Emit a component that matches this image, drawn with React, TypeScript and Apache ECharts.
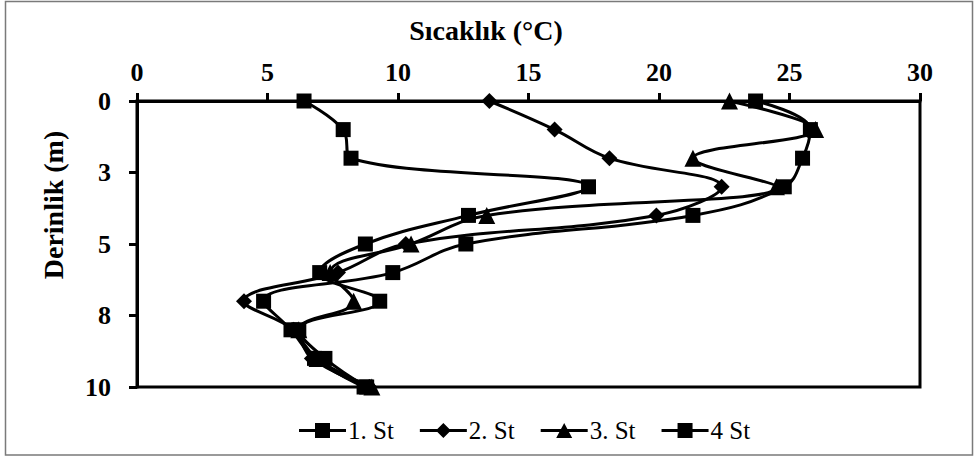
import React, { useEffect, useRef } from "react";
import * as echarts from "echarts";

const depths = [0, 1, 2, 3, 4, 5, 6, 7, 8, 9, 10];
const st1 = [6.4, 7.9, 8.2, 17.3, 12.7, 8.75, 7.0, 9.3, 6.2, 7.2, 8.8];
const st2 = [13.5, 16.0, 18.1, 22.4, 19.9, 10.3, 7.7, 4.1, 6.0, 6.7, 8.9];
const st3 = [22.7, 26.0, 21.3, 24.5, 13.4, 10.5, 7.4, 8.3, 6.2, 6.9, 9.0];
const st4 = [23.7, 25.8, 25.5, 24.8, 21.3, 12.6, 9.8, 4.85, 5.9, 6.8, 8.7];
const seriesNames = ["1. St", "2. St", "3. St", "4 St"];
const seriesValues = [st1, st2, st3, st4];
const seriesSymbols = ["rect", "diamond", "triangle", "rect"];
const xTitle = "Sıcaklık (°C)";
const yTitle = "Derinlik (m)";

const SERIF = "Liberation Serif";

const legendIcons: Record<string, string> = {
  rect: "path://M0,6 H16 V0 H31 V6 H47 V9 H31 V15 H16 V9 H0 Z",
  diamond: "path://M0,6 H17.5 L23.5,0 L29.5,6 H47 V9 H29.5 L23.5,15 L17.5,9 H0 Z",
  triangle:
    "path://M0,6 H20.3 L23.5,0 L26.7,6 H47 V9 H28.3 L31.5,15 H15.5 L18.7,9 H0 Z",
};

export default function App() {
  const ref = useRef<HTMLDivElement>(null);
  useEffect(() => {
    if (!ref.current) return;
    const chart = echarts.init(ref.current, null, { renderer: "svg" });
    const sizes: Record<string, number> = {
      rect: 15,
      diamond: 16,
      triangle: 17,
    };
    chart.setOption({
      animation: false,
      backgroundColor: "#ffffff",
      grid: {
        left: 137,
        right: 57,
        top: 101,
        bottom: 72,
        show: true,
        borderColor: "#000",
        borderWidth: 3,
      },
      xAxis: {
        type: "value",
        position: "top",
        min: 0,
        max: 30,
        interval: 5,
        axisLine: { show: true, lineStyle: { color: "#000", width: 3 } },
        axisTick: { show: true, length: 8, lineStyle: { color: "#000", width: 3 } },
        splitLine: { show: false },
        axisLabel: {
          margin: 16,
          color: "#000",
          fontFamily: SERIF,
          fontWeight: "bold",
          fontSize: 26,
        },
      },
      yAxis: {
        type: "value",
        inverse: true,
        min: 0,
        max: 10,
        interval: 2.5,
        axisLine: { show: true, lineStyle: { color: "#000", width: 3 } },
        axisTick: { show: true, length: 8, lineStyle: { color: "#000", width: 3 } },
        splitLine: { show: false },
        axisLabel: {
          margin: 26,
          color: "#000",
          fontFamily: SERIF,
          fontWeight: "bold",
          fontSize: 26,
          formatter: (v: number) => String(Math.round(v)),
        },
      },
      legend: {
        left: 294,
        top: 413,
        itemWidth: 47,
        itemHeight: 15,
        itemGap: 26,
        itemStyle: { color: "#000", borderWidth: 0 },
        textStyle: { color: "#000", fontFamily: SERIF, fontSize: 25, padding: [0, 0, 0, -3] },
        data: seriesNames.map((name, i) => ({
          name,
          icon: legendIcons[seriesSymbols[i]],
        })),
      },
      graphic: [
        {
          type: "rect",
          shape: { x: 5.5, y: 1.5, width: 967, height: 453.5 },
          style: { fill: "none", stroke: "#7a7a7a", lineWidth: 1.5 },
          silent: true,
        },
        {
          type: "text",
          x: 486,
          y: 30,
          style: {
            text: xTitle,
            fill: "#000",
            fontFamily: SERIF,
            fontWeight: "bold",
            fontSize: 28,
            align: "center",
            verticalAlign: "middle",
          },
        },
        {
          type: "text",
          x: 53,
          y: 205,
          rotation: Math.PI / 2,
          style: {
            text: yTitle,
            fill: "#000",
            fontFamily: SERIF,
            fontWeight: "bold",
            fontSize: 28,
            align: "center",
            verticalAlign: "middle",
          },
        },
      ],
      series: seriesNames.map((name, i) => ({
        name,
        type: "line",
        smooth: 0.4,
        symbol: seriesSymbols[i],
        symbolSize: sizes[seriesSymbols[i]],
        showAllSymbol: true,
        lineStyle: { color: "#000", width: 3 },
        itemStyle: { color: "#000", borderWidth: 0 },
        data: seriesValues[i].map((v, j) => [v, depths[j]]),
        z: 2 + i,
      })),
    });
    return () => chart.dispose();
  }, []);
  return (
    <div
      ref={ref}
      style={{ position: "fixed", left: 0, top: 0, width: 977, height: 459 }}
    />
  );
}
